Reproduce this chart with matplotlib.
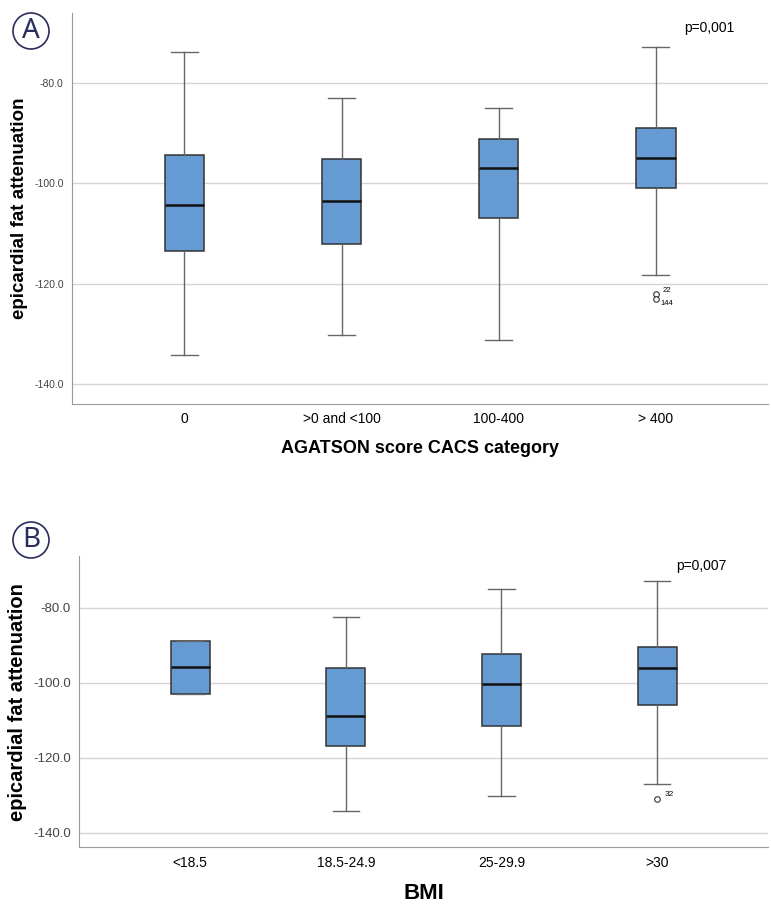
import matplotlib
matplotlib.use("Agg")
import matplotlib.pyplot as plt
from matplotlib.patches import Circle

plt.rcParams['font.family'] = ['Liberation Sans', 'DejaVu Sans']

# Panel A data
cacs_labels = ["0", ">0 and <100", "100-400", "> 400"]
cacs_whislo = [-134.1, -130.1, -131.1, -118.2]
cacs_q1 = [-113.5, -112.0, -107.0, -101.0]
cacs_med = [-104.4, -103.6, -96.9, -94.9]
cacs_q3 = [-94.3, -95.1, -91.1, -89.1]
cacs_whishi = [-73.8, -83.0, -85.0, -72.9]
cacs_fliers = [[], [], [], [-122.0, -123.0]]

# Panel B data
bmi_labels = ["<18.5", "18.5-24.9", "25-29.9", ">30"]
bmi_whislo = [-102.9, -134.1, -130.1, -126.9]
bmi_q1 = [-102.9, -117.0, -111.5, -106.0]
bmi_med = [-95.9, -108.9, -100.4, -96.1]
bmi_q3 = [-88.9, -96.0, -92.3, -90.6]
bmi_whishi = [-88.9, -82.6, -75.0, -73.0]
bmi_fliers = [[], [], [], [-130.9]]

yticks = [-80, -100, -120, -140]

box_color = "#659ad2"


def make_stats(lo, q1, med, q3, hi, fl):
    stats = []
    for i in range(len(med)):
        stats.append(dict(whislo=lo[i], q1=q1[i], med=med[i], q3=q3[i],
                          whishi=hi[i], fliers=fl[i]))
    return stats


def draw_panel(ax, stats, labels, xlabel, ytick_size, xtick_size, xlabel_size, ylabel_size):
    ax.bxp(stats, positions=range(len(stats)), widths=0.25, patch_artist=True,
           boxprops=dict(facecolor=box_color, edgecolor="#333333", linewidth=1.1),
           medianprops=dict(color="#111111", linewidth=1.8),
           whiskerprops=dict(color="#666666", linewidth=1.0),
           capprops=dict(color="#666666", linewidth=1.0),
           flierprops=dict(marker="o", markersize=4, markerfacecolor="white",
                           markeredgecolor="#333333", markeredgewidth=0.8),
           capwidths=0.17, zorder=3)
    ax.set_xlim(-0.715, 3.715)
    ax.set_ylim(-143.9, -66.2)
    ax.set_yticks(yticks)
    ax.set_yticklabels([f"{v:.1f}" for v in yticks], fontsize=ytick_size, color="#444444")
    ax.set_xticks(range(len(labels)))
    ax.set_xticklabels(labels, fontsize=xtick_size)
    ax.tick_params(length=0, pad=6)
    ax.yaxis.grid(True, color="#d4d4d4", linewidth=1.0, zorder=0)
    ax.set_axisbelow(True)
    for s in ["top", "right"]:
        ax.spines[s].set_visible(False)
    for s in ["left", "bottom"]:
        ax.spines[s].set_color("#999999")
    ax.set_xlabel(xlabel, fontsize=xlabel_size, fontweight="bold", labelpad=10)
    ax.set_ylabel("epicardial fat attenuation", fontsize=ylabel_size, fontweight="bold")


fig = plt.figure(figsize=(7.71, 9.05), dpi=100)

axA = fig.add_axes([0.0934, 0.5536, 0.903, 0.4317])
draw_panel(axA, make_stats(cacs_whislo, cacs_q1, cacs_med, cacs_q3, cacs_whishi, cacs_fliers),
           cacs_labels, "AGATSON score CACS category", 7.5, 10, 13, 13.5)
axA.text(3.18, -70.0, "p=0,001", fontsize=10)
axA.text(3.04, -121.6, "22", fontsize=5.5)
axA.text(3.03, -124.2, "144", fontsize=5.5)

axB = fig.add_axes([0.1025, 0.0638, 0.894, 0.3219])
draw_panel(axB, make_stats(bmi_whislo, bmi_q1, bmi_med, bmi_q3, bmi_whishi, bmi_fliers),
           bmi_labels, "BMI", 9.5, 10, 16, 14.5)
axB.text(3.12, -70.0, "p=0,007", fontsize=10)
axB.text(3.05, -130.2, "32", fontsize=6)

# panel letters in circles
for letter, (cx, cy) in [("A", (31, 31)), ("B", (31, 540))]:
    fx, fy = cx / 771, 1 - cy / 905
    circ = Circle((cx, 905 - cy), 18, transform=None, fill=False,
                  edgecolor="#2b2d5a", linewidth=1.2)
    fig.patches.append(circ)
    fig.text(fx, fy, letter, fontsize=20, color="#2b2d5a", ha="center", va="center",
             family=["Noto Sans", "DejaVu Sans"])

fig.savefig("out.png", dpi=100)
